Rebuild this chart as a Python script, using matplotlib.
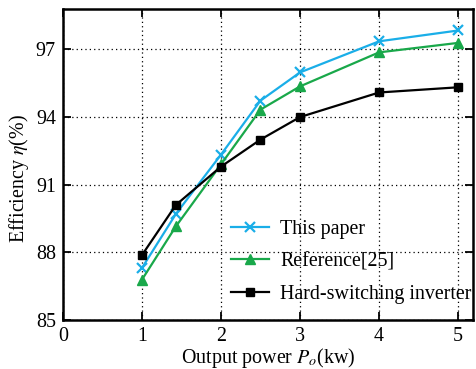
import matplotlib
matplotlib.use("Agg")
import matplotlib.pyplot as plt

# output power (kW) and efficiency (%)
power = [1, 1.43, 2, 2.5, 3, 4, 5]
this_paper = [87.3, 89.7, 92.33, 94.73, 95.98, 97.36, 97.84]
reference25 = [86.78, 89.15, 91.9, 94.33, 95.36, 96.87, 97.29]
hard_switch = [87.87, 90.1, 91.8, 93.0, 94.0, 95.09, 95.32]

xticks = [0, 1, 2, 3, 4, 5]
yticks = [85, 88, 91, 94, 97]

plt.rcParams['font.family'] = 'Liberation Serif'
plt.rcParams['mathtext.fontset'] = 'stix'
plt.rcParams['font.size'] = 14.4

fig = plt.figure(figsize=(4.76, 3.69), dpi=100)
ax = fig.add_axes([0.132, 0.133, 0.862, 0.843])

ax.plot(power, this_paper, color='#1aaee8', lw=1.6, marker='x', ms=6.5, mew=1.6,
        label='This paper')
ax.plot(power, reference25, color='#19a84a', lw=1.6, marker='^', ms=6.5,
        label='Reference[25]')
ax.plot(power, hard_switch, color='black', lw=1.6, marker='s', ms=5.5,
        label='Hard-switching inverter')

ax.set_xlim(0, 5.19)
ax.set_ylim(85, 98.8)
ax.set_xticks(xticks)
ax.set_yticks(yticks)
ax.grid(True, color='black', linestyle=(0, (1, 2.5)), lw=0.9)
ax.tick_params(direction='in', top=True, right=True, length=6, width=1.3, pad=5)
for s in ax.spines.values():
    s.set_linewidth(1.8)

ax.set_xlabel(r'Output power $P_o$(kw)', labelpad=0)
ax.set_ylabel(r'Efficiency $\eta$(%)')
ax.yaxis.set_label_coords(-0.078, 0.453)

ax.legend(loc='upper left', bbox_to_anchor=(0.41, 0.322), frameon=False,
          borderpad=0, borderaxespad=0, handlelength=1.9, handletextpad=0.55,
          labelspacing=0.68)

fig.savefig('out.png', dpi=100)
